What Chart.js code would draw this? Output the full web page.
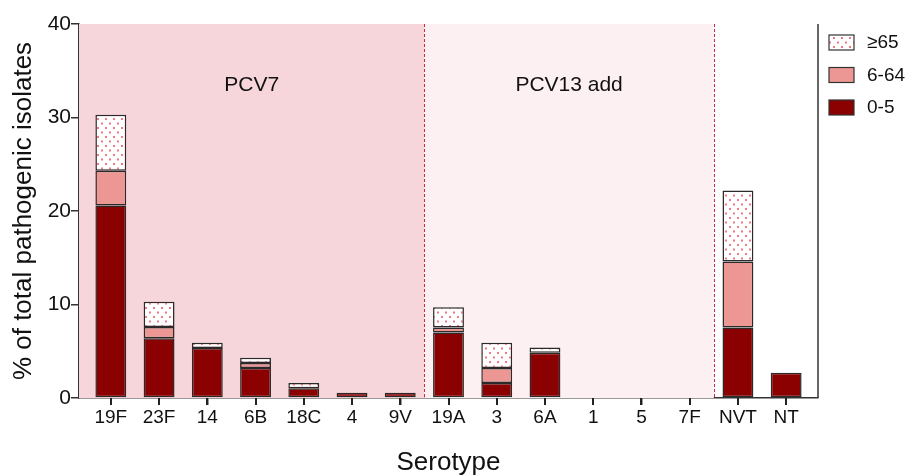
<!DOCTYPE html>
<html>
<head>
<meta charset="utf-8">
<script src="https://cdn.jsdelivr.net/npm/chart.js@4.4.0/dist/chart.umd.min.js"></script>
<style>
  html, body { margin: 0; padding: 0; background: #fff; }
  #wrap { width: 908px; height: 476px; }
</style>
</head>
<body>
<div id="wrap"><canvas id="grafico"></canvas></div>
<script>
const serotipos = ['19F', '23F', '14', '6B', '18C', '4', '9V', '19A', '3', '6A', '1', '5', '7F', 'NVT', 'NT'];
const edad0a5   = [20.6, 6.4, 5.35, 3.2, 1.05, 0.55, 0.55, 7.0, 1.6, 4.85, 0, 0, 0, 7.55, 2.7];
const edad6a64  = [3.7, 1.2, 0, 0.55, 0, 0, 0, 0.55, 1.6, 0, 0, 0, 0, 7.05, 0];
const edad65    = [6.0, 2.7, 0.55, 0.55, 0.55, 0, 0, 2.15, 2.7, 0.55, 0, 0, 0, 7.6, 0];
const yTicks    = [0, 10, 20, 30, 40];
const grupos = [
  { label: 'PCV7', desde: 0, hasta: 6, color: '#f6d6db' },
  { label: 'PCV13 add', desde: 7, hasta: 12, color: '#fcf0f2' }
];

const fuente = '"Liberation Sans", Arial, Helvetica, sans-serif';

function patronPuntos() {
  const c = document.createElement('canvas');
  c.width = 8; c.height = 9;
  const g = c.getContext('2d');
  g.fillStyle = '#ffffff';
  g.fillRect(0, 0, 8, 9);
  g.fillStyle = '#f07a84';
  g.fillRect(1, 1, 2, 2);
  g.fillRect(5, 5.5, 2, 2);
  return g.createPattern(c, 'repeat');
}

const sinCero = arr => arr.map(v => v === 0 ? null : v);

const fondos = {
  id: 'fondos',
  beforeDatasetsDraw(chart) {
    const { ctx, chartArea, scales } = chart;
    const x = scales.x;
    const mitad = i => (x.getPixelForValue(i) + x.getPixelForValue(i + 1)) / 2;
    const limites = [];
    ctx.save();
    grupos.forEach(gr => {
      const x0 = gr.desde === 0 ? chartArea.left : mitad(gr.desde - 1);
      const x1 = mitad(gr.hasta);
      limites.push(x1);
      ctx.fillStyle = gr.color;
      ctx.fillRect(x0, chartArea.top, x1 - x0, chartArea.bottom - chartArea.top);
      ctx.fillStyle = '#111';
      ctx.font = '21px ' + fuente;
      ctx.textAlign = 'center';
      ctx.textBaseline = 'middle';
      ctx.fillText(gr.label, (x0 + x1) / 2, chartArea.top + 61);
    });
    ctx.strokeStyle = '#d0283c';
    ctx.lineWidth = 1;
    ctx.setLineDash([3, 2]);
    limites.forEach(lx => {
      ctx.beginPath();
      ctx.moveTo(Math.round(lx) + 0.5, chartArea.top);
      ctx.lineTo(Math.round(lx) + 0.5, chartArea.bottom);
      ctx.stroke();
    });
    ctx.setLineDash([]);
    // borde derecho
    ctx.strokeStyle = '#333';
    ctx.lineWidth = 1.5;
    ctx.beginPath();
    ctx.moveTo(chartArea.right, chartArea.top);
    ctx.lineTo(chartArea.right, chartArea.bottom);
    ctx.stroke();
    ctx.restore();
  },
  afterDraw(chart) {
    const { ctx, chartArea, scales } = chart;
    ctx.save();
    // marcas del eje x en el centro de cada categoria
    ctx.strokeStyle = '#222';
    ctx.lineWidth = 2;
    serotipos.forEach((s, i) => {
      const px = Math.round(scales.x.getPixelForValue(i));
      ctx.beginPath();
      ctx.moveTo(px, chartArea.bottom);
      ctx.lineTo(px, chartArea.bottom + 7);
      ctx.stroke();
    });
    const items = chart.data.datasets.slice().reverse();
    ctx.font = '19px ' + fuente;
    ctx.textBaseline = 'middle';
    ctx.textAlign = 'left';
    items.forEach((ds, i) => {
      const y = 42 + i * 32.5;
      const bx = chartArea.right + 11;
      ctx.fillStyle = ds.backgroundColor;
      ctx.fillRect(bx, y - 7, 25, 15);
      ctx.strokeStyle = '#333';
      ctx.lineWidth = 1.2;
      ctx.strokeRect(bx, y - 7, 25, 15);
      ctx.fillStyle = '#111';
      ctx.fillText(ds.label, bx + 38, y + 1);
    });
    ctx.restore();
  }
};

const ctx = document.getElementById('grafico').getContext('2d');
const comun = { borderColor: '#2a2a2a', borderWidth: 1.5, barPercentage: 0.64, categoryPercentage: 1, borderSkipped: false };

new Chart(ctx, {
  type: 'bar',
  data: {
    labels: serotipos,
    datasets: [
      Object.assign({ label: '0-5', data: sinCero(edad0a5), backgroundColor: '#8b0000' }, comun),
      Object.assign({ label: '6-64', data: sinCero(edad6a64), backgroundColor: '#ec9793' }, comun),
      Object.assign({ label: '≥65', data: sinCero(edad65), backgroundColor: patronPuntos() }, comun)
    ]
  },
  options: {
    responsive: true,
    maintainAspectRatio: false,
    animation: false,
    layout: { padding: { top: 24, right: 90, left: 0, bottom: 0 } },
    plugins: { legend: { display: false }, tooltip: { enabled: false } },
    scales: {
      x: {
        stacked: true,
        offset: true,
        grid: { offset: false, drawOnChartArea: false, drawTicks: true, tickLength: 7, color: '#333', lineWidth: 1.5 },
        border: { color: '#333', width: 1.5 },
        ticks: { color: '#111', font: { family: fuente, size: 19 }, padding: 1, maxRotation: 0, autoSkip: false },
        title: { display: true, text: 'Serotype', color: '#111', font: { family: fuente, size: 26, lineHeight: 1 }, padding: { top: 14, bottom: 0 } },
        afterBuildTicks: s => { s._startValue = -0.66; s._valueRange = serotipos.length - 1 + 1.32; },
        afterFit: s => { s.height = 78; }
      },
      y: {
        stacked: true,
        min: 0,
        max: 40,
        afterBuildTicks: s => { s.ticks = yTicks.map(v => ({ value: v })); },
        grid: { drawOnChartArea: false, drawTicks: true, tickLength: 8, color: '#333', lineWidth: 1.5 },
        border: { color: '#333', width: 1.5 },
        ticks: { color: '#111', font: { family: fuente, size: 21 }, padding: 0 },
        title: { display: true, text: '% of total pathogenic isolates', color: '#111', font: { family: fuente, size: 26 }, padding: { top: 8, bottom: 0 } },
        afterFit: s => { s.width = 79; }
      }
    }
  },
  plugins: [fondos]
});
</script>
</body>
</html>
